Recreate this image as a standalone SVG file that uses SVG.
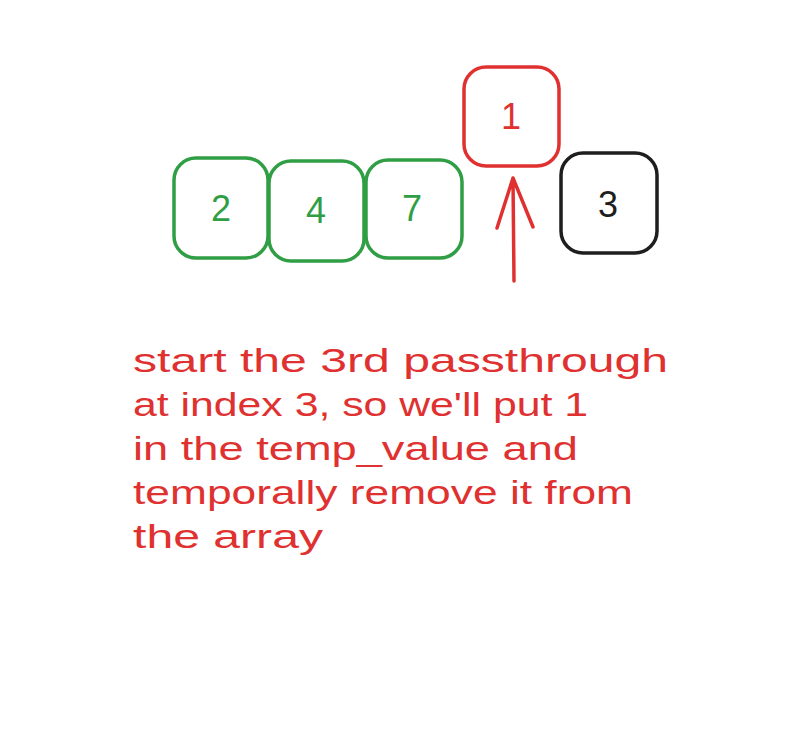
<svg xmlns="http://www.w3.org/2000/svg" width="794" height="736" viewBox="0 0 794 736">
<style>
.box{fill:none;stroke-width:3.5;stroke-linejoin:round;stroke-linecap:round}
.g{stroke:#2f9e44}.r{stroke:#e03131}.k{stroke:#1e1e1e}
.num{font-family:"Liberation Sans",sans-serif;font-size:36px;text-anchor:middle;dominant-baseline:central}
.t{font-family:"Liberation Sans",sans-serif;font-size:34px;fill:#e03131}
</style>
<rect width="794" height="736" fill="#ffffff"/>
<g id="node-2"><rect class="box g" x="174" y="158" width="94" height="100" rx="22"/><text class="num" x="221" y="208" fill="#2f9e44">2</text></g>
<g id="node-4"><rect class="box g" x="269" y="161" width="95" height="100" rx="22"/><text class="num" x="316" y="210" fill="#2f9e44">4</text></g>
<g id="node-7"><rect class="box g" x="366" y="160" width="96" height="98" rx="22"/><text class="num" x="412" y="208" fill="#2f9e44">7</text></g>
<g id="node-1"><rect class="box r" x="464" y="67" width="95" height="99" rx="22"/><text class="num" x="511" y="116" fill="#e03131">1</text></g>
<g id="node-3"><rect class="box k" x="561" y="153" width="96" height="100" rx="22"/><text class="num" x="608" y="204" fill="#1e1e1e">3</text></g>
<g id="connectors"><path d="M514 281 L513 178 M497 228 L513 178 L533 227" fill="none" stroke="#e03131" stroke-width="3.5" stroke-linecap="round" stroke-linejoin="round"/></g>
<g id="label">
<text class="t" x="133" y="372" textLength="535" lengthAdjust="spacingAndGlyphs">start the 3rd passthrough</text>
<text class="t" x="133" y="416" textLength="455" lengthAdjust="spacingAndGlyphs">at index 3, so we'll put 1</text>
<text class="t" x="133" y="460" textLength="445" lengthAdjust="spacingAndGlyphs">in the temp_value and</text>
<text class="t" x="133" y="504" textLength="500" lengthAdjust="spacingAndGlyphs">temporally remove it from</text>
<text class="t" x="133" y="548" textLength="190" lengthAdjust="spacingAndGlyphs">the array</text>
</g>
</svg>
